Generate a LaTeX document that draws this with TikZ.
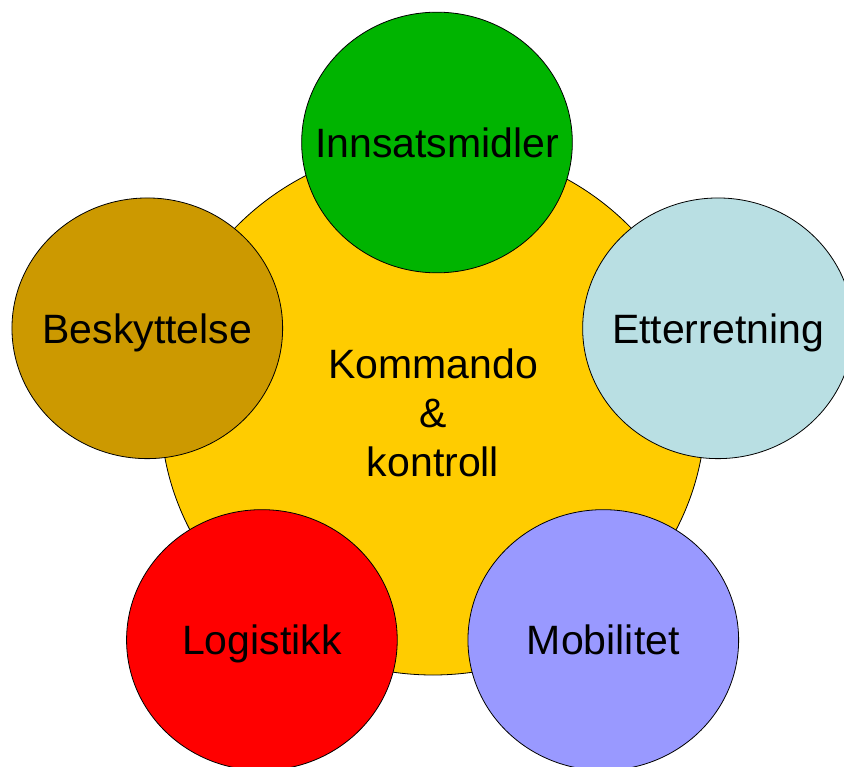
\documentclass[tikz,border=0pt]{standalone}
\usepackage{fontspec}
\setmainfont{Liberation Sans}
\usetikzlibrary{shapes.geometric}
\definecolor{kcyellow}{HTML}{FFCC00}
\definecolor{kcgreen}{HTML}{00B400}
\definecolor{kcbrown}{HTML}{CC9900}
\definecolor{kcblue}{HTML}{B9DFE3}
\definecolor{kcred}{HTML}{FF0000}
\definecolor{kcviolet}{HTML}{9999FF}
\begin{document}
\begin{tikzpicture}[x=0.75pt,y=-0.75pt,
  every node/.style={font=\fontsize{30.75}{36.75}\selectfont},
  hub/.style={ellipse, draw=black, line width=0.6pt, inner sep=0pt,
    minimum width=408.75pt, minimum height=397.5pt},
  part/.style={ellipse, draw=black, line width=0.6pt, inner sep=0pt,
    minimum width=203pt, minimum height=195.5pt},
  caption/.style={text depth=0pt, inner sep=0pt}]
  \useasboundingbox (0,0) rectangle (844,767);
  \clip (0,0) rectangle (844,767);

  % central element
  \node[hub, fill=kcyellow] (kk) at (433,410) {};
  \node[align=center, inner sep=0pt] (kktext) at (433,413) {Kommando\\\&\\kontroll};

  % surrounding elements
  \node[part, fill=kcgreen, label={[caption]center:Innsatsmidler}] (inn) at (437,142.5) {};
  \node[part, fill=kcblue, label={[caption]center:Etterretning}] (ett) at (718,328.3) {};
  \node[part, fill=kcbrown, label={[caption]center:Beskyttelse}] (bes) at (147.3,328.3) {};
  \node[part, fill=kcred, label={[caption]center:Logistikk}] (log) at (261.9,640) {};
  \node[part, fill=kcviolet, label={[caption]center:Mobilitet}] (mob) at (603.3,640) {};
\end{tikzpicture}
\end{document}
